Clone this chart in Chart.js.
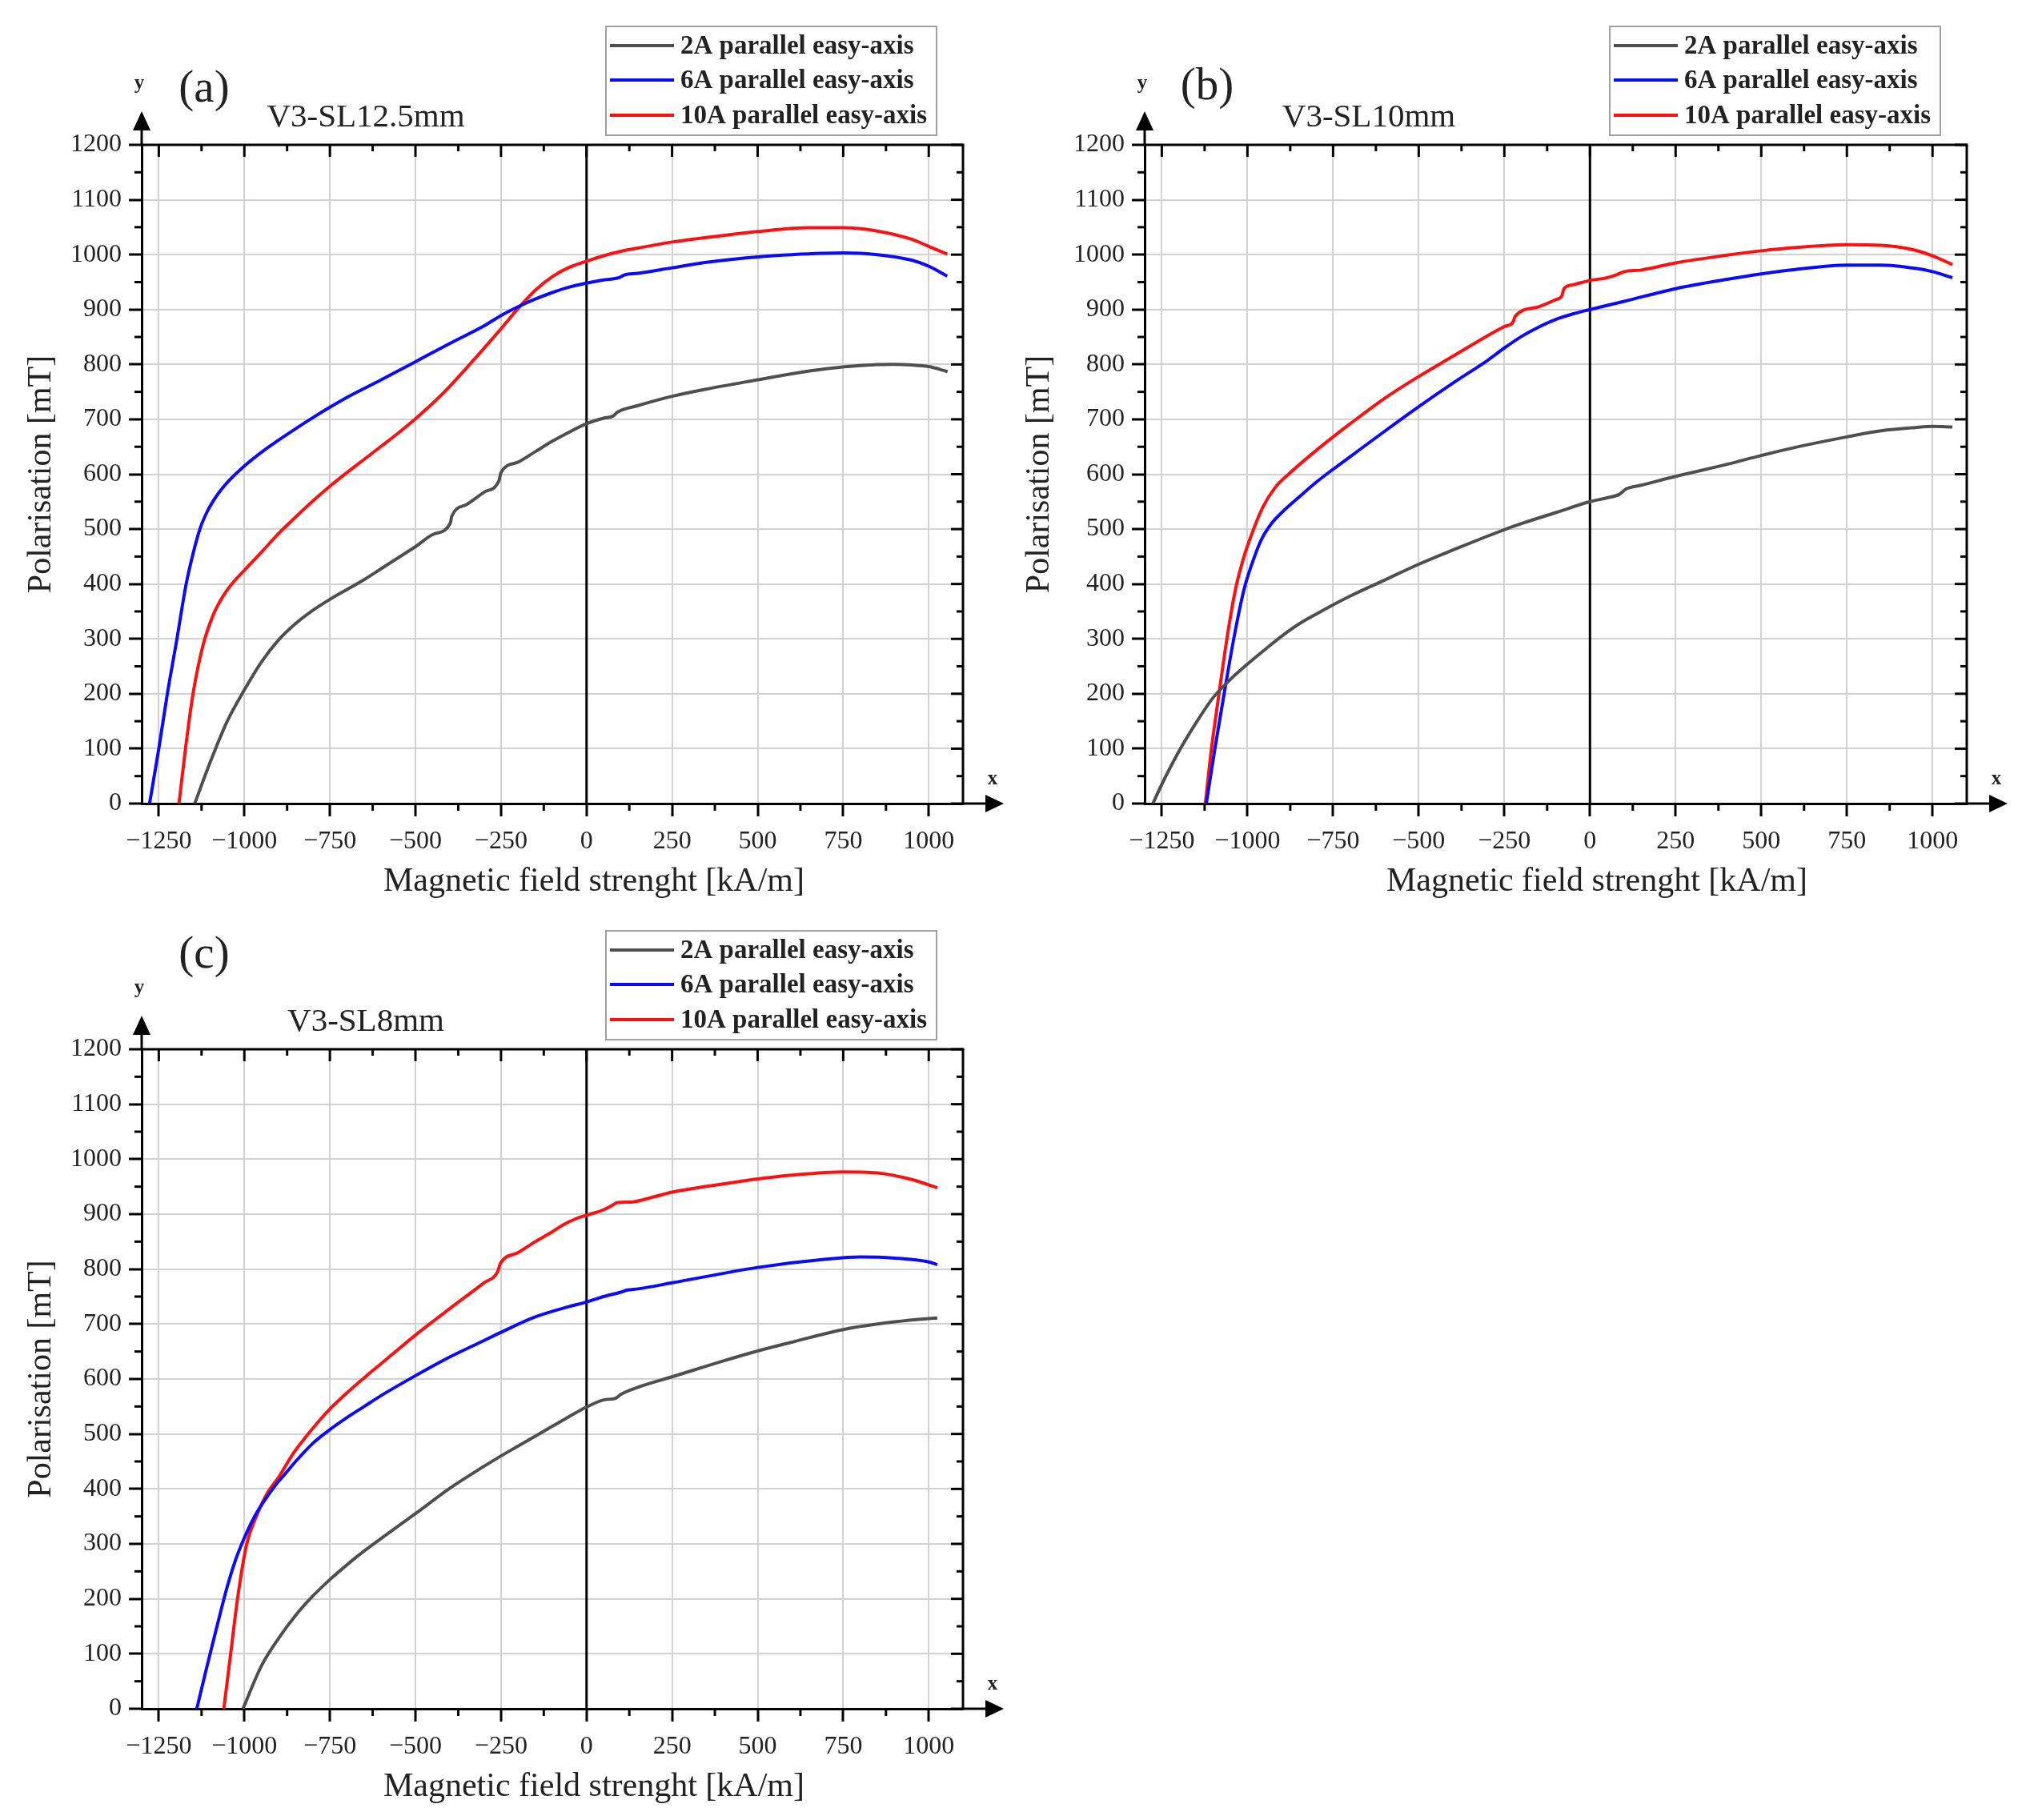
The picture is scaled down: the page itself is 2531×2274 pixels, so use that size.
<!DOCTYPE html>
<html>
<head>
<meta charset="utf-8">
<script src="https://cdn.jsdelivr.net/npm/chart.js@4.4.1/dist/chart.umd.min.js"></script>
<style>
  html, body { margin: 0; padding: 0; background: #ffffff; }
  body { width: 2531px; height: 2274px; position: relative; overflow: hidden; }
  canvas { position: absolute; }
</style>
</head>
<body>
<canvas id="ca" width="1265" height="1140" style="left:0px;top:0px;width:1265px;height:1140px"></canvas>
<canvas id="cb" width="1266" height="1140" style="left:1265px;top:0px;width:1266px;height:1140px"></canvas>
<canvas id="cc" width="1265" height="1134" style="left:0px;top:1140px;width:1265px;height:1134px"></canvas>
<script>
// ---------------- DATA ----------------
const xTickValues  = [-1250, -1000, -750, -500, -250, 0, 250, 500, 750, 1000];
const yTickValues  = [0, 100, 200, 300, 400, 500, 600, 700, 800, 900, 1000, 1100, 1200];
const xMinorValues = [-1125, -875, -625, -375, -125, 125, 375, 625, 875];
const yMinorValues = [50, 150, 250, 350, 450, 550, 650, 750, 850, 950, 1050, 1150];

const seriesLabels = ['2A parallel easy-axis', '6A parallel easy-axis', '10A parallel easy-axis'];
const panelTitles  = ['V3-SL12.5mm', 'V3-SL10mm', 'V3-SL8mm'];
const panelLetters = ['(a)', '(b)', '(c)'];
const xAxisTitle = 'Magnetic field strenght [kA/m]';
const yAxisTitle = 'Polarisation [mT]';

// Panel (a) V3-SL12.5mm
const a2A_H = [-1145,-1100,-1050,-1000,-950,-900,-850,-800,-750,-700,-650,-600,-550,-500,-450,-398,-394,-350,-300,-256,-250,-200,-150,-100,-50,0,50,78,90,150,250,350,500,600,700,800,900,950,1000,1055];
const a2A_J = [0,75,150,207,258,298,328,352,372,390,408,428,448,468,490,511,523,545,567,588,603,622,641,660,677,692,702,706,713,725,742,755,772,783,792,798,800,799,796,787];
const a6A_H = [-1277,-1250,-1225,-1197,-1170,-1150,-1130,-1110,-1090,-1070,-1050,-1000,-950,-900,-850,-800,-750,-700,-600,-500,-400,-300,-250,-200,-150,-100,-50,0,50,95,110,150,250,350,500,600,750,850,950,1000,1054];
const a6A_J = [0,100,200,300,400,455,500,530,552,570,585,615,640,662,683,703,722,740,772,805,838,870,889,905,919,931,941,948,954,958,963,966,976,986,996,1000,1003,1000,990,979,961];
const a10A_H = [-1191,-1172,-1150,-1120,-1090,-1060,-1030,-1000,-950,-900,-850,-800,-750,-700,-650,-600,-550,-500,-450,-400,-350,-300,-250,-200,-150,-100,-50,0,50,100,150,250,400,500,650,750,850,950,1000,1054];
const a10A_J = [0,100,200,290,345,380,405,425,458,492,522,551,578,603,627,651,675,701,729,760,794,829,865,902,935,960,977,988,998,1006,1012,1023,1035,1042,1049,1049,1043,1028,1015,1001];

// Panel (b) V3-SL10mm
const b2A_H = [-1276,-1250,-1200,-1150,-1100,-1050,-1000,-950,-900,-850,-800,-750,-700,-600,-500,-400,-300,-250,-200,-100,0,50,85,105,150,250,400,500,600,750,850,950,1000,1058];
const b2A_J = [0,35,95,147,193,226,254,280,305,327,345,362,378,407,436,462,487,499,510,530,550,557,563,573,580,596,618,634,649,668,679,685,687,686];
const b6A_H = [-1120,-1095,-1068,-1040,-1010,-985,-960,-930,-900,-850,-800,-750,-700,-600,-500,-400,-300,-250,-200,-150,-100,-50,0,100,250,400,500,600,750,850,950,1000,1058];
const b6A_J = [0,100,200,300,390,440,480,510,530,558,585,609,632,678,723,766,807,830,851,868,882,892,900,915,938,955,965,973,981,981,975,969,958];
const b10A_H = [-1123,-1105,-1083,-1060,-1035,-1010,-985,-955,-920,-880,-800,-750,-700,-600,-500,-400,-300,-250,-225,-218,-150,-100,-82,-76,-50,0,50,80,100,150,250,400,500,600,750,850,950,1000,1058];
const b10A_J = [0,100,200,300,390,450,495,540,575,600,643,668,692,738,778,815,852,869,877,888,905,918,925,938,945,953,958,964,969,972,985,999,1007,1013,1018,1017,1008,998,982];

// Panel (c) V3-SL8mm
const c2A_H = [-1004,-950,-900,-850,-800,-750,-700,-650,-600,-500,-400,-300,-250,-200,-150,-100,-50,0,50,85,100,150,250,400,500,600,750,900,1000,1025];
const c2A_J = [0,78,128,170,205,235,262,287,310,355,401,441,460,478,496,514,532,549,562,565,572,585,604,633,651,667,690,704,710,711];
const c6A_H = [-1139,-1110,-1080,-1050,-1025,-1000,-970,-940,-910,-880,-850,-800,-750,-700,-650,-600,-500,-400,-300,-250,-150,-50,0,50,100,120,150,250,500,700,800,900,1000,1025];
const c6A_J = [0,75,150,222,272,311,350,380,406,428,450,483,508,530,550,570,606,640,670,685,713,732,740,750,758,762,764,775,803,818,822,820,813,808];
const c10A_H = [-1060,-1040,-1020,-993,-965,-935,-898,-860,-820,-780,-746,-700,-641,-600,-500,-400,-300,-260,-252,-200,-150,-100,-70,-30,0,50,75,90,130,200,250,400,500,600,750,850,950,1025];
const c10A_J = [0,100,200,300,350,390,423,462,495,525,548,575,607,628,680,728,775,795,810,830,850,868,880,892,898,908,916,921,922,932,940,955,964,971,977,975,963,948];

const seriesColors = ['#4f4f4f', '#0a0aff', '#ff1010'];

// ---------------- DRAWING ----------------
const SERIF = '"Liberation Serif", "Times New Roman", serif';

function pts(H, J) { return H.map((h, i) => ({ x: h, y: J[i] })); }
function fmt(v) { return v < 0 ? '\u2212' + Math.abs(v) : String(v); }

function seg(ctx, x1, y1, x2, y2) { ctx.beginPath(); ctx.moveTo(x1, y1); ctx.lineTo(x2, y2); ctx.stroke(); }

const decor = {
  id: 'decor',
  beforeDatasetsDraw(chart, args, o) {
    const { ctx, chartArea: a, scales: { x } } = chart;
    const p0 = x.getPixelForValue(0);
    ctx.save();
    ctx.strokeStyle = '#000'; ctx.lineWidth = 3;
    seg(ctx, p0, a.top, p0, a.bottom);
    ctx.restore();
  },
  afterDraw(chart, args, o) {
    const { ctx, chartArea: a, scales: { x, y } } = chart;
    const L = a.left, R = a.right, T = a.top, B = a.bottom;
    ctx.save();
    ctx.strokeStyle = '#000'; ctx.fillStyle = '#000'; ctx.lineWidth = 3; ctx.lineCap = 'butt';
    // top and right frame
    seg(ctx, L - 1.5, T, R + 1.5, T);
    seg(ctx, R, T, R, B + 1.5);
    // minor ticks (outward bottom/left, inward top/right)
    xMinorValues.forEach(v => { const p = x.getPixelForValue(v); seg(ctx, p, B, p, B + 9); seg(ctx, p, T, p, T + 8); });
    xTickValues.forEach(v => { const p = x.getPixelForValue(v); seg(ctx, p, T, p, T + 15); });
    yMinorValues.forEach(v => { const p = y.getPixelForValue(v); seg(ctx, L - 9, p, L, p); seg(ctx, R - 8, p, R, p); });
    yTickValues.forEach(v => { const p = y.getPixelForValue(v); seg(ctx, R - 15, p, R, p); });
    // axis arrows
    seg(ctx, L, T, L, T - 22);
    ctx.beginPath(); ctx.moveTo(L, T - 42); ctx.lineTo(L - 11, T - 18); ctx.lineTo(L + 11, T - 18); ctx.closePath(); ctx.fill();
    seg(ctx, R, B, R + 32, B);
    ctx.beginPath(); ctx.moveTo(R + 51, B); ctx.lineTo(R + 28, B - 11); ctx.lineTo(R + 28, B + 11); ctx.closePath(); ctx.fill();
    // small axis letters
    ctx.fillStyle = '#222';
    ctx.font = 'bold 25px ' + SERIF;
    ctx.textAlign = 'center'; ctx.textBaseline = 'alphabetic';
    ctx.fillText('y', L - 3, T - 70);
    ctx.fillText('x', R + 37, B - 24);
    // panel letter
    ctx.font = '57px ' + SERIF;
    ctx.fillText(o.letter, L + 78, T + o.letterDy);
    // panel title
    ctx.font = '41px ' + SERIF;
    ctx.fillText(o.title, L + 280, T - 23);
    // x axis title
    ctx.font = '42px ' + SERIF;
    ctx.textBaseline = 'middle';
    ctx.fillText(xAxisTitle, L + 565, B + 98);
    // legend
    const bx = R - 446, by = T - 148, bw = 413, bh = 136;
    ctx.strokeStyle = '#a0a0a0'; ctx.lineWidth = 2;
    ctx.strokeRect(bx, by, bw, bh);
    const ys = [T - 124, T - 81, T - 37];
    ctx.font = 'bold 33px ' + SERIF;
    ctx.textAlign = 'left'; ctx.textBaseline = 'middle';
    chart.data.datasets.forEach((ds, i) => {
      ctx.strokeStyle = ds.borderColor; ctx.lineWidth = 4;
      seg(ctx, bx + 5, ys[i], bx + 85, ys[i]);
      ctx.fillStyle = '#222';
      ctx.fillText(ds.label, bx + 93, ys[i] + 1);
    });
    ctx.restore();
  }
};

function makePanel(id, series, geo, idx) {
  const canvas = document.getElementById(id);
  const W = canvas.width, H = canvas.height;
  const datasets = series.map((s, i) => ({
    label: seriesLabels[i],
    data: pts(s[0], s[1]),
    showLine: true,
    borderColor: seriesColors[i],
    backgroundColor: seriesColors[i],
    borderWidth: 4,
    pointRadius: 0,
    cubicInterpolationMode: 'monotone',
    fill: false
  }));
  const tickFont = { family: SERIF, size: 32 };
  return new Chart(canvas, {
    type: 'scatter',
    data: { datasets },
    plugins: [decor],
    options: {
      responsive: false,
      animation: false,
      devicePixelRatio: 1,
      events: [],
      layout: { padding: { left: 0, top: geo.T, right: W - geo.R, bottom: 0 } },
      plugins: {
        legend: { display: false },
        tooltip: { enabled: false },
        decor: { letter: panelLetters[idx], title: panelTitles[idx], letterDy: geo.letterDy }
      },
      scales: {
        x: {
          type: 'linear', min: -1300, max: 1100,
          afterBuildTicks: s => { s.ticks = xTickValues.map(v => ({ value: v })); },
          afterFit: s => { s.height = H - geo.B; },
          ticks: { callback: v => fmt(v), font: tickFont, color: '#222', padding: 12, maxRotation: 0, autoSkip: false },
          grid: { color: '#d2d2d2', lineWidth: 2, drawTicks: true, tickLength: 16, tickColor: '#000', tickWidth: 3 },
          border: { display: true, color: '#000', width: 3 },
          title: { display: false }
        },
        y: {
          type: 'linear', min: 0, max: 1200,
          afterBuildTicks: s => { s.ticks = yTickValues.map(v => ({ value: v })); },
          afterFit: s => { s.width = geo.L; },
          ticks: { callback: v => fmt(v), font: tickFont, color: '#222', padding: 9, autoSkip: false },
          grid: { color: '#d2d2d2', lineWidth: 2, drawTicks: true, tickLength: 16, tickColor: '#000', tickWidth: 3 },
          border: { display: true, color: '#000', width: 3 },
          title: { display: true, text: yAxisTitle, color: '#222', font: { family: SERIF, size: 42 }, padding: { top: geo.yTitleX - 25.2, bottom: 0 } }
        }
      }
    }
  });
}

makePanel('ca', [[a2A_H, a2A_J], [a6A_H, a6A_J], [a10A_H, a10A_J]], { L: 177, R: 1203, T: 181, B: 1004, letterDy: -54, yTitleX: 52 }, 0);
makePanel('cb', [[b2A_H, b2A_J], [b6A_H, b6A_J], [b10A_H, b10A_J]], { L: 165, R: 1192, T: 181, B: 1004, letterDy: -57, yTitleX: 34 }, 1);
makePanel('cc', [[c2A_H, c2A_J], [c6A_H, c6A_J], [c10A_H, c10A_J]], { L: 177, R: 1203, T: 171, B: 995, letterDy: -102, yTitleX: 52 }, 2);
</script>
</body>
</html>
